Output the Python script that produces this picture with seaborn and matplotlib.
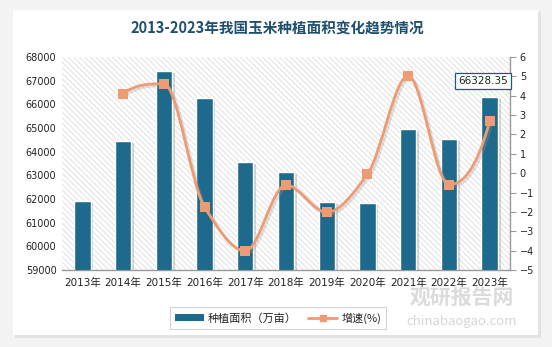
import numpy as np
import pandas as pd
import matplotlib
matplotlib.use("Agg")
import matplotlib.pyplot as plt
import matplotlib.patheffects as pe
from matplotlib.patches import Rectangle, PathPatch
from matplotlib.path import Path
from matplotlib.lines import Line2D
import seaborn as sns

# ---------------- data ----------------
years = ["2013年", "2014年", "2015年", "2016年", "2017年", "2018年",
         "2019年", "2020年", "2021年", "2022年", "2023年"]
area = [61916, 64464, 67421, 66270, 63564, 63142, 61874, 61818, 64958, 64550, 66328.35]
growth_years = years[1:]
growth = [4.11, 4.62, -1.75, -4.02, -0.61, -2.02, -0.06, 5.02, -0.59, 2.68]
title = "2013-2023年我国玉米种植面积变化趋势情况"
label_area = "种植面积（万亩）"
label_growth = "增速(%)"
last_label = "66328.35"

# ---------------- style ----------------
sns.set_theme(style="white")
plt.rcParams["font.family"] = ["DejaVu Sans", "Noto Sans CJK SC"]
plt.rcParams["hatch.linewidth"] = 0.6
plt.rcParams["hatch.color"] = "#dcdcdc"

bar_color = "#1d6a8d"
line_color = "#ee9a72"
cjk = ["Noto Sans CJK SC", "DejaVu Sans"]

W, H = 552, 347
fig = plt.figure(figsize=(W / 100, H / 100), dpi=100)
fig.patch.set_facecolor("#f3f3f3")

# card with shadow
def px_rect(x0, y0, x1, y1, **kw):
    return Rectangle((x0 / W, 1 - y1 / H), (x1 - x0) / W, (y1 - y0) / H,
                     transform=fig.transFigure, **kw)
fig.patches.append(px_rect(15, 12, 541, 338, facecolor="#e2e2e2", edgecolor="none", zorder=-20))
fig.patches.append(px_rect(13, 10, 538, 335, facecolor="white", edgecolor="none", zorder=-10))

# axes in pixel layout
L, R, T, B = 62, 510, 57, 270
ax = fig.add_axes([L / W, 1 - B / H, (R - L) / W, (B - T) / H])
ax.set_facecolor("none")

df = pd.DataFrame({"year": years, "area": area})
sns.barplot(data=df, x="year", y="area", color=bar_color, width=0.4,
            saturation=1, edgecolor="white", linewidth=1.0, ax=ax, zorder=3)
for p in ax.patches:
    p.set_path_effects([pe.SimplePatchShadow(offset=(2.0, -1.5), shadow_rgbFace="#888888", alpha=0.35),
                        pe.Normal()])

# hatched background
bg = Rectangle((0, 0), 1, 1, transform=ax.transAxes, facecolor="white",
               edgecolor="#dcdcdc", hatch="\\\\\\\\\\\\", linewidth=0, zorder=0)
ax.add_patch(bg)

ax.set_ylim(59000, 68000)
ax.set_yticks(np.arange(59000, 68001, 1000))
ax.set_xlim(-0.5, len(years) - 0.5)
ax.set_xlabel("")
ax.set_ylabel("")
ax.tick_params(axis="y", labelsize=7, colors="#222222", length=0, pad=4)
ax.tick_params(axis="x", labelsize=7.5, colors="#222222", length=0, pad=6)
for lab in ax.get_xticklabels():
    lab.set_fontfamily(["DejaVu Sans", "Noto Sans CJK SC"])
for s in ["top", "left", "right"]:
    ax.spines[s].set_visible(False)
ax.spines["bottom"].set_color("#999999")
ax.spines["bottom"].set_linewidth(1)

# growth axis
ax2 = ax.twinx()
ax2.set_ylim(-5, 6)
ax2.set_yticks(np.arange(-5, 7, 1))
ax2.tick_params(axis="y", labelsize=7, colors="#222222", length=4, width=0.8, pad=3,
                color="#999999", direction="out")
for s in ["top", "left", "bottom"]:
    ax2.spines[s].set_visible(False)
ax2.spines["right"].set_color("#999999")
ax2.spines["right"].set_linewidth(1)

gx = np.array([years.index(y) for y in growth_years], dtype=float)
gy = np.array(growth, dtype=float)

# smooth (monotone, no overshoot) curve rendering through the data points
n = len(gx)
h = np.diff(gx)
d = np.diff(gy) / h
m = np.zeros(n)
for k in range(1, n - 1):
    if d[k - 1] * d[k] > 0:
        w1 = 2 * h[k] + h[k - 1]
        w2 = h[k] + 2 * h[k - 1]
        m[k] = (w1 + w2) / (w1 / d[k - 1] + w2 / d[k])
def end_slope(h0, h1, d0, d1):
    s = ((2 * h0 + h1) * d0 - h0 * d1) / (h0 + h1)
    if np.sign(s) != np.sign(d0):
        s = 0.0
    elif np.sign(d0) != np.sign(d1) and abs(s) > abs(3 * d0):
        s = 3 * d0
    return s
m[0] = end_slope(h[0], h[1], d[0], d[1])
m[-1] = end_slope(h[-1], h[-2], d[-1], d[-2])
verts = [(gx[0], gy[0])]
codes = [Path.MOVETO]
for i in range(n - 1):
    hh = h[i]
    verts += [(gx[i] + hh / 3, gy[i] + m[i] * hh / 3),
              (gx[i + 1] - hh / 3, gy[i + 1] - m[i + 1] * hh / 3),
              (gx[i + 1], gy[i + 1])]
    codes += [Path.CURVE4] * 3
curve = PathPatch(Path(verts, codes), facecolor="none", edgecolor=line_color,
                  linewidth=2.0, zorder=4, transform=ax2.transData)
curve.set_path_effects([pe.SimpleLineShadow(offset=(1.5, -1.5), shadow_color="#999999", alpha=0.3),
                        pe.Normal()])
ax2.add_patch(curve)

gdf = pd.DataFrame({"x": gx, "g": gy})
sns.scatterplot(data=gdf, x="x", y="g", marker="s", s=45, color=line_color,
                edgecolor=line_color, linewidth=0, ax=ax2, zorder=5, legend=False)
ax2.set_xlim(-0.5, len(years) - 0.5)
ax2.set_xlabel("")
ax2.set_ylabel("")

# last value label
ax2.annotate(last_label, xy=(len(years) - 1, 4.0), xytext=(-5, 10.5),
             textcoords="offset points", ha="center", va="center", fontsize=7.5,
             color="#222222", zorder=6,
             bbox=dict(boxstyle="square,pad=0.3", facecolor="white", edgecolor="#1d5a7d", linewidth=0.9))

# title
fig.text(277 / W, 1 - 29 / H, title, ha="center", va="center", fontsize=10.5,
         fontweight="bold", color="#1f4e6e", family=cjk)

# watermark
fig.text(462 / W, 1 - 297 / H, "观研报告网", ha="center", va="center", fontsize=15,
         fontweight="bold", color="#cccccc", family=cjk, alpha=0.7, zorder=1)
fig.text(462 / W, 1 - 322 / H, "chinabaogao.com", ha="center", va="center", fontsize=9.5,
         color="#c4c4c4", family=cjk, alpha=0.7, zorder=1)

# legend
handles = [Rectangle((0, 0), 1, 1, facecolor=bar_color, edgecolor="none"),
           Line2D([0], [0], color=line_color, linewidth=2, marker="s", markersize=5)]
leg = fig.legend(handles, [label_area, label_growth], loc="center",
                 bbox_to_anchor=(278 / W, 1 - 318 / H), ncol=2, frameon=True,
                 fancybox=False, edgecolor="#c8c8c8", handlelength=2.6,
                 handleheight=0.6, handletextpad=0.4, columnspacing=1.0, borderpad=0.45,
                 prop={"family": cjk, "size": 8})
leg.get_frame().set_linewidth(0.8)
for t in leg.get_texts():
    t.set_color("#222222")

fig.savefig("out.png", dpi=100, facecolor=fig.get_facecolor())
